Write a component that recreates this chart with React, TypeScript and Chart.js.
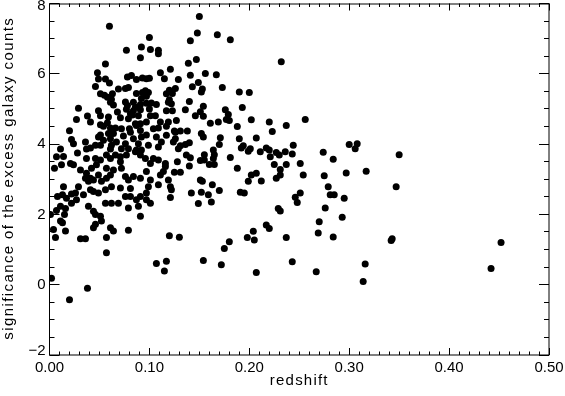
import React, { useEffect, useRef } from 'react';
import { Chart, registerables } from 'chart.js';

Chart.register(...registerables);

// redshift (x) and significance (y) of each cluster, same order
const redshift = [
  0.150, 0.060, 0.148, 0.168, 0.181, 0.141, 0.100, 0.092, 0.101, 0.077,
  0.109, 0.109, 0.091, 0.147, 0.139, 0.232, 0.056, 0.121, 0.111, 0.048,
  0.049, 0.056, 0.060, 0.046, 0.078, 0.082, 0.087, 0.093, 0.097, 0.100,
  0.115, 0.129, 0.141, 0.156, 0.167, 0.149, 0.143, 0.153, 0.152, 0.173,
  0.126, 0.190, 0.200, 0.051, 0.055, 0.058, 0.063, 0.069, 0.076, 0.079,
  0.087, 0.093, 0.096, 0.099, 0.117, 0.123, 0.120, 0.120, 0.097, 0.062,
  0.061, 0.064, 0.076, 0.078, 0.084, 0.086, 0.077, 0.084, 0.081, 0.092,
  0.091, 0.091, 0.097, 0.102, 0.107, 0.100, 0.106, 0.101, 0.117, 0.119,
  0.122, 0.123, 0.136, 0.140, 0.154, 0.151, 0.146, 0.154, 0.176, 0.179,
  0.177, 0.180, 0.193, 0.029, 0.027, 0.038, 0.041, 0.049, 0.051, 0.059,
  0.058, 0.068, 0.071, 0.079, 0.083, 0.089, 0.091, 0.086, 0.097, 0.111,
  0.109, 0.119, 0.127, 0.161, 0.169, 0.188, 0.202, 0.220, 0.237, 0.256,
  0.117, 0.125, 0.131, 0.138, 0.223, 0.051, 0.061, 0.066, 0.080, 0.020,
  0.054, 0.072, 0.087, 0.104, 0.091, 0.022, 0.024, 0.011, 0.007, 0.014,
  0.028, 0.036, 0.037, 0.041, 0.046, 0.051, 0.049, 0.054, 0.051, 0.059,
  0.064, 0.061, 0.067, 0.062, 0.061, 0.057, 0.074, 0.076, 0.072, 0.071,
  0.077, 0.081, 0.084, 0.092, 0.089, 0.087, 0.092, 0.099, 0.079, 0.086,
  0.091, 0.096, 0.104, 0.101, 0.109, 0.107, 0.109, 0.117, 0.126, 0.126,
  0.112, 0.124, 0.131, 0.136, 0.140, 0.152, 0.154, 0.171, 0.170, 0.190,
  0.207, 0.192, 0.194, 0.199, 0.201, 0.211, 0.217, 0.220, 0.221, 0.227,
  0.230, 0.236, 0.243, 0.244, 0.137, 0.141, 0.151, 0.155, 0.155, 0.164,
  0.165, 0.164, 0.181, 0.274, 0.284, 0.300, 0.308, 0.306, 0.350, 0.251,
  0.066, 0.061, 0.051, 0.046, 0.037, 0.071, 0.005, 0.012, 0.024, 0.031,
  0.037, 0.042, 0.047, 0.041, 0.039, 0.044, 0.049, 0.052, 0.057, 0.061,
  0.057, 0.064, 0.072, 0.076, 0.079, 0.084, 0.091, 0.097, 0.101, 0.111,
  0.114, 0.119, 0.116, 0.116, 0.128, 0.140, 0.125, 0.131, 0.151, 0.153,
  0.163, 0.170, 0.142, 0.152, 0.159, 0.149, 0.162, 0.121, 0.122, 0.121,
  0.191, 0.195, 0.199, 0.202, 0.207, 0.212, 0.225, 0.227, 0.231, 0.231,
  0.237, 0.188, 0.160, 0.165, 0.254, 0.275, 0.297, 0.317, 0.279, 0.347,
  0.251, 0.246, 0.248, 0.281, 0.285, 0.295, 0.014, 0.041, 0.044, 0.049,
  0.056, 0.062, 0.071, 0.076, 0.081, 0.087, 0.091, 0.097, 0.099, 0.109,
  0.008, 0.013, 0.017, 0.022, 0.026, 0.027, 0.034, 0.097, 0.022, 0.011,
  0.007, 0.016, 0.015, 0.011, 0.001, 0.004, 0.006, 0.013, 0.016, 0.039,
  0.044, 0.046, 0.051, 0.052, 0.056, 0.062, 0.069, 0.079, 0.089, 0.091,
  0.101, 0.044, 0.046, 0.061, 0.064, 0.057, 0.031, 0.036, 0.079, 0.120,
  0.130, 0.180, 0.175, 0.198, 0.204, 0.205, 0.217, 0.220, 0.237, 0.229,
  0.231, 0.276, 0.293, 0.270, 0.269, 0.284, 0.343, 0.342, 0.452, 0.002,
  0.020, 0.038, 0.057, 0.107, 0.115, 0.117, 0.154, 0.172, 0.207, 0.243,
  0.267, 0.314, 0.316, 0.442, 0.129, 0.097, 0.029, 0.036, 0.081, 0.021,
];

const significance = [
  7.63, 7.35, 7.16, 7.11, 6.97, 6.94, 7.03, 6.76, 6.69, 6.67,
  6.67, 6.57, 6.46, 6.41, 6.30, 6.34, 6.28, 6.13, 6.03, 6.03,
  5.85, 5.85, 5.74, 5.64, 5.91, 5.95, 5.84, 5.88, 5.86, 5.87,
  5.86, 5.84, 5.96, 6.01, 5.97, 5.75, 5.63, 5.57, 5.48, 5.61,
  5.58, 5.48, 5.47, 5.43, 5.39, 5.33, 5.43, 5.57, 5.58, 5.61,
  5.44, 5.47, 5.52, 5.47, 5.43, 5.44, 5.53, 5.26, 5.36, 5.27,
  5.19, 5.11, 5.20, 5.10, 5.19, 5.05, 4.99, 4.95, 4.86, 5.30,
  5.13, 4.98, 5.16, 5.17, 5.13, 5.00, 4.81, 4.81, 4.95, 5.19,
  5.15, 4.95, 4.98, 5.21, 5.08, 4.92, 4.81, 4.79, 4.98, 4.84,
  4.70, 4.67, 5.04, 5.02, 4.70, 4.80, 4.63, 4.95, 4.81, 4.77,
  4.61, 4.91, 4.75, 4.72, 4.83, 4.81, 4.58, 4.58, 4.63, 4.63,
  4.46, 4.63, 4.67, 4.59, 4.63, 4.50, 4.69, 4.63, 4.53, 4.70,
  4.51, 4.37, 4.37, 4.37, 4.36, 4.55, 4.46, 4.46, 4.44, 4.38,
  4.51, 4.44, 4.53, 4.44, 4.39, 4.13, 4.01, 3.86, 3.64, 3.65,
  3.75, 4.06, 3.86, 3.89, 3.97, 4.26, 4.20, 4.11, 3.97, 4.30,
  4.30, 4.15, 4.06, 3.97, 3.86, 3.69, 4.23, 4.01, 3.87, 3.64,
  3.69, 4.34, 4.15, 4.20, 4.01, 3.83, 3.83, 3.97, 3.87, 3.78,
  3.69, 3.59, 3.59, 3.45, 3.55, 4.20, 3.92, 4.25, 4.34, 4.15,
  4.06, 4.06, 3.95, 3.99, 4.04, 4.30, 4.20, 4.18, 3.99, 4.15,
  4.17, 3.89, 3.95, 3.80, 3.87, 3.78, 3.89, 3.83, 3.64, 3.76,
  3.69, 3.78, 3.72, 3.97, 3.69, 3.61, 3.53, 3.55, 3.70, 3.83,
  3.70, 3.59, 3.62, 3.77, 3.57, 3.99, 4.01, 3.87, 3.70, 3.45,
  3.69, 3.59, 3.55, 3.59, 3.59, 3.50, 3.31, 3.41, 3.41, 3.26,
  3.17, 3.31, 3.41, 3.03, 2.94, 2.98, 3.12, 2.94, 3.03, 3.12,
  3.31, 3.26, 3.31, 3.08, 2.98, 3.08, 3.03, 3.22, 2.98, 3.12,
  3.22, 2.98, 3.45, 3.36, 3.50, 3.38, 3.20, 3.20, 2.98, 2.94,
  2.84, 2.68, 2.61, 2.63, 2.56, 2.31, 2.35, 2.79, 2.70, 2.48,
  2.63, 2.61, 2.94, 3.12, 3.17, 2.95, 3.42, 3.03, 3.12, 3.28,
  3.42, 3.31, 3.42, 3.42, 3.12, 3.10, 3.18, 3.23, 2.79, 2.79,
  2.61, 2.49, 2.34, 2.56, 2.56, 2.46, 2.79, 2.70, 2.65, 2.61,
  2.70, 2.79, 2.75, 2.51, 2.51, 2.42, 2.51, 2.61, 2.79, 2.84,
  2.51, 2.56, 2.46, 2.58, 2.61, 2.42, 2.56, 2.42, 2.32, 2.23,
  2.11, 2.17, 2.00, 1.81, 2.00, 1.57, 1.34, 1.76, 1.53, 2.23,
  2.09, 2.00, 1.95, 1.81, 2.32, 2.32, 2.32, 2.18, 2.23, 1.95,
  2.32, 1.62, 1.72, 1.62, 1.53, 1.34, 1.31, 1.31, 1.55, 1.39,
  1.35, 1.22, 1.03, 1.34, 1.52, 1.27, 1.70, 1.60, 1.34, 2.17,
  2.10, 2.18, 1.92, 1.79, 1.47, 1.36, 1.31, 1.26, 1.20, 0.18,
  -0.43, -0.10, 0.91, 0.60, 0.39, 0.67, 0.69, 0.57, 0.35, 0.65,
  0.37, 0.09, 0.59, 0.46, 3.87, 4.26, 2.79, 3.03, 2.74, 3.45,
];

const xTickLabels = ['0.00', '0.10', '0.20', '0.30', '0.40', '0.50'];
const yTickValues = [-2, 0, 2, 4, 6, 8];
const yTickLabels = ['\u22122', '0', '2', '4', '6', '8'];
const xTitle = 'redshift';
const yTitle = 'significance of the excess galaxy counts';

const FONT = "'Liberation Sans', Arial, sans-serif";

// Inward IDL-style tick marks on all four sides, the frame, y labels and titles
const frameTicks = {
  id: 'frameTicks',
  afterDraw(chart: any) {
    const { ctx, chartArea: a, scales } = chart;
    const xs = scales.x;
    const ys = scales.y;
    ctx.save();
    ctx.strokeStyle = '#000';
    ctx.lineWidth = 1;
    ctx.strokeRect(a.left, a.top + 0.5, a.right - a.left, a.bottom - a.top - 0.5);
    ctx.beginPath();
    for (let i = 0; i <= 50; i++) {
      const px = Math.floor(xs.getPixelForValue(i / 100)) + 0.5;
      const len = i % 10 === 0 ? 7 : 3.5;
      ctx.moveTo(px, a.bottom);
      ctx.lineTo(px, a.bottom - len);
      ctx.moveTo(px, a.top);
      ctx.lineTo(px, a.top + len);
    }
    for (let i = 0; i <= 20; i++) {
      const py = Math.floor(ys.getPixelForValue(-2 + i * 0.5)) + 0.5;
      const len = i % 4 === 0 ? 10 : 5;
      ctx.moveTo(a.left, py);
      ctx.lineTo(a.left + len, py);
      ctx.moveTo(a.right, py);
      ctx.lineTo(a.right - len, py);
    }
    ctx.stroke();

    // y tick labels (kept inside the canvas at the top)
    ctx.fillStyle = '#000';
    ctx.font = `15px ${FONT}`;
    ctx.textAlign = 'right';
    ctx.textBaseline = 'middle';
    yTickValues.forEach((v, i) => {
      const py = Math.min(Math.max(ys.getPixelForValue(v), 6), 351);
      ctx.fillText(yTickLabels[i], a.left - 4, py);
    });

    // axis titles with IDL-like letter spacing
    (ctx as any).letterSpacing = '1.4px';
    ctx.font = `15px ${FONT}`;
    ctx.textAlign = 'center';
    ctx.save();
    ctx.translate(9, (a.top + a.bottom) / 2 - 1);
    ctx.rotate(-Math.PI / 2);
    ctx.fillText(yTitle, 0, 0);
    ctx.restore();
    (ctx as any).letterSpacing = '1.2px';
    ctx.font = `15px ${FONT}`;
    ctx.fillText(xTitle, (a.left + a.right) / 2, 381);
    ctx.restore();
  },
};

export default function App() {
  const ref = useRef<HTMLCanvasElement>(null);
  useEffect(() => {
    const points = redshift.map((x, i) => ({ x, y: significance[i] }));
    const chart = new Chart(ref.current as HTMLCanvasElement, {
      type: 'scatter',
      data: {
        datasets: [
          {
            data: points,
            backgroundColor: '#000',
            borderColor: '#000',
            borderWidth: 0,
            pointRadius: 3.5,
            pointHoverRadius: 3.5,
          },
        ],
      },
      options: {
        animation: false,
        responsive: false,
        devicePixelRatio: 1,
        events: [],
        layout: { padding: { left: 0, right: 16, top: 1, bottom: 0 } },
        plugins: { legend: { display: false }, tooltip: { enabled: false } },
        scales: {
          x: {
            type: 'linear',
            min: 0,
            max: 0.5,
            grid: { display: false, drawTicks: false },
            border: { display: false },
            ticks: {
              stepSize: 0.1,
              padding: 4,
              color: '#000',
              maxRotation: 0,
              autoSkip: false,
              font: { family: FONT, size: 15 },
              callback: (_v: any, i: number) => xTickLabels[i],
            },
            afterFit: (s: any) => {
              s.height = 41;
              s.paddingLeft = 0;
              s.paddingRight = 0;
            },
          },
          y: {
            type: 'linear',
            min: -2,
            max: 8,
            grid: { display: false, drawTicks: false },
            border: { display: false },
            ticks: { stepSize: 2, display: false },
            afterFit: (s: any) => {
              s.width = 49.5;
              s.paddingTop = 0;
              s.paddingBottom = 0;
            },
          },
        },
      },
      plugins: [frameTicks],
    } as any);
    return () => chart.destroy();
  }, []);
  return (
    <div style={{ position: 'absolute', left: 0, top: 0, width: 565, height: 396, background: '#fff' }}>
      <canvas ref={ref} width={565} height={396} style={{ display: 'block' }} />
    </div>
  );
}
